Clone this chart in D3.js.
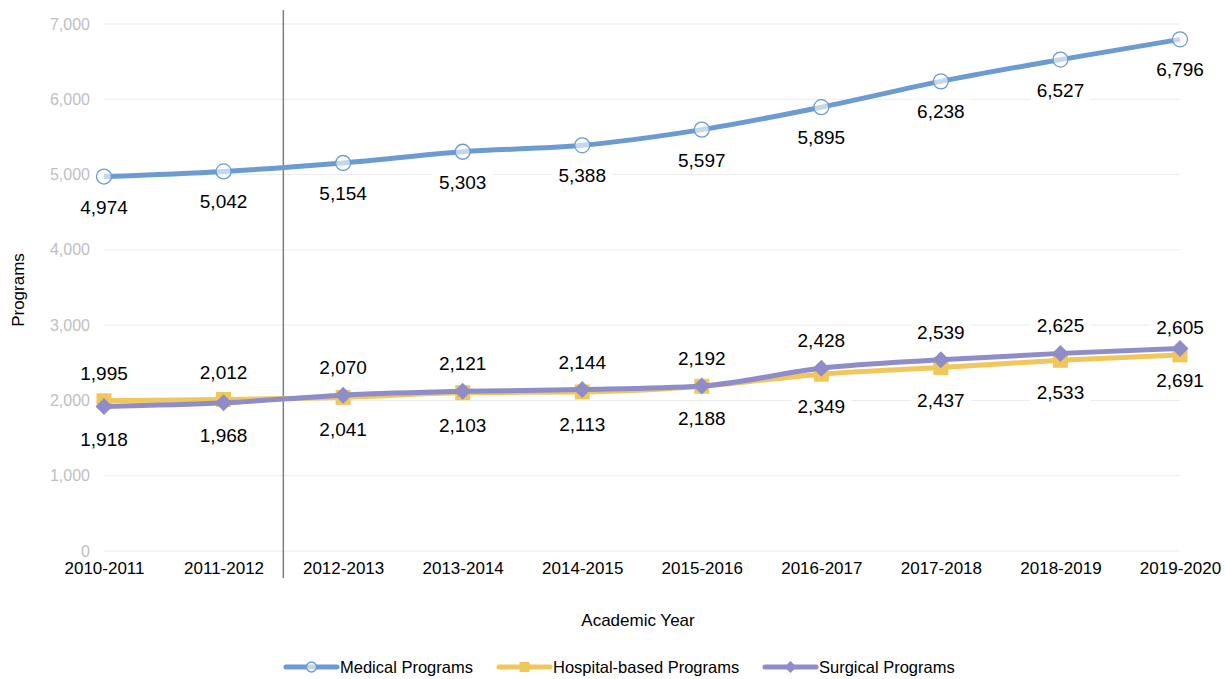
<!DOCTYPE html>
<html>
<head>
<meta charset="utf-8">
<script src="https://cdn.jsdelivr.net/npm/d3@7"></script>
<style>
  body { margin: 0; background: #fff; }
  text { font-family: "Liberation Sans", Arial, sans-serif; }
</style>
</head>
<body>
<div class="chart"></div>
<script>
var years = ["2010-2011", "2011-2012", "2012-2013", "2013-2014", "2014-2015",
  "2015-2016", "2016-2017", "2017-2018", "2018-2019", "2019-2020"];
var medical = [4974, 5042, 5154, 5303, 5388, 5597, 5895, 6238, 6527, 6796];
var hospital = [1995, 2012, 2041, 2103, 2113, 2188, 2349, 2437, 2533, 2605];
var surgical = [1918, 1968, 2070, 2121, 2144, 2192, 2428, 2539, 2625, 2691];
// which of the two lower series has its label on top, per year
var hospitalOnTop = [true, true, false, false, false, false, false, false, false, true];
var yTicks = [0, 1000, 2000, 3000, 4000, 5000, 6000, 7000];

var svgWidth = 1225;
var svgHeight = 679;

var svg = d3.select(".chart")
  .append("svg")
  .attr("width", svgWidth)
  .attr("height", svgHeight);

var xScale = d3.scalePoint()
  .domain(years)
  .range([104, 1180]);

var yScale = d3.scaleLinear()
  .domain([0, 7000])
  .range([551, 24]);

var fmt = d3.format(",");

// gridlines
svg.append("g").selectAll("line")
  .data(yTicks)
  .enter()
  .append("line")
  .attr("x1", xScale(years[0]))
  .attr("x2", xScale(years[years.length - 1]))
  .attr("y1", d => yScale(d))
  .attr("y2", d => yScale(d))
  .attr("stroke", "#ebebeb")
  .attr("stroke-width", 1);

// y axis labels
var leftAxis = d3.axisLeft(yScale).tickValues(yTicks).tickFormat(fmt).tickSize(0).tickPadding(0);
var yAxis = svg.append("g")
  .attr("transform", "translate(90,0)")
  .call(leftAxis);
yAxis.select(".domain").remove();
yAxis.selectAll("text")
  .attr("fill", "#bfbfbf")
  .attr("font-size", "16px")
  .style("font-family", "'Liberation Sans', Arial, sans-serif");

// x axis labels
var bottomAxis = d3.axisBottom(xScale).tickSize(0).tickPadding(0);
var xAxis = svg.append("g")
  .attr("transform", "translate(0,562)")
  .call(bottomAxis);
xAxis.select(".domain").remove();
xAxis.selectAll("text")
  .attr("fill", "#000")
  .attr("font-size", "17px")
  .style("font-family", "'Liberation Sans', Arial, sans-serif");

// vertical divider between 2011-2012 and 2012-2013
var divX = (xScale(years[1]) + xScale(years[2])) / 2;
svg.append("line")
  .attr("x1", divX).attr("x2", divX)
  .attr("y1", 10).attr("y2", 578)
  .attr("stroke", "#7f7f7f")
  .attr("stroke-width", 1.5);

// axis titles
svg.append("text")
  .attr("x", 638).attr("y", 626)
  .attr("text-anchor", "middle")
  .attr("font-size", "17px")
  .text("Academic Year");

svg.append("text")
  .attr("transform", "translate(24,290) rotate(-90)")
  .attr("text-anchor", "middle")
  .attr("font-size", "17px")
  .text("Programs");

var series = [
  { name: "Medical Programs", values: medical, color: "#6b9bd1", marker: "circle" },
  { name: "Hospital-based Programs", values: hospital, color: "#f1c75b", marker: "square" },
  { name: "Surgical Programs", values: surgical, color: "#8e8cc9", marker: "diamond" }
];

var line = d3.line()
  .x((d, i) => xScale(years[i]))
  .y(d => yScale(d))
  .curve(d3.curveMonotoneX);

function drawMarker(g, type, color, x, y, big) {
  if (type === "circle") {
    g.append("circle")
      .attr("cx", x).attr("cy", y)
      .attr("r", big ? 7.5 : 5)
      .attr("fill", "rgba(255,255,255,0.6)")
      .attr("stroke", color)
      .attr("stroke-width", 1.3);
  } else if (type === "square") {
    var s = big ? 15 : 10;
    g.append("rect")
      .attr("x", x - s / 2).attr("y", y - s / 2)
      .attr("width", s).attr("height", s)
      .attr("fill", color);
  } else {
    var h = big ? 8.5 : 6;
    g.append("path")
      .attr("d", `M${x},${y - h}L${x + h},${y}L${x},${y + h}L${x - h},${y}Z`)
      .attr("fill", color);
  }
}

// data labels sit on white boxes that cut the gridlines
var labelLayer = svg.append("g");

function addLabel(x, cy, v) {
  var g = labelLayer.append("g");
  g.append("rect")
    .attr("x", x - 30).attr("y", cy - 12)
    .attr("width", 60).attr("height", 24)
    .attr("fill", "#fff");
  g.append("text")
    .attr("x", x)
    .attr("y", cy + 7)
    .attr("text-anchor", "middle")
    .attr("font-size", "19px")
    .attr("fill", "#000")
    .text(fmt(v));
}

medical.forEach(function(v, i) {
  addLabel(xScale(years[i]), yScale(v) + 30, v);
});
hospital.forEach(function(v, i) {
  addLabel(xScale(years[i]), hospitalOnTop[i] ? yScale(v) - 28 : yScale(v) + 32, v);
});
surgical.forEach(function(v, i) {
  addLabel(xScale(years[i]), !hospitalOnTop[i] ? yScale(v) - 28 : yScale(v) + 32, v);
});

// hospital first, then surgical over it, medical on top
[1, 2, 0].forEach(function(k) {
  var s = series[k];
  var g = svg.append("g");
  g.append("path")
    .datum(s.values)
    .attr("d", line)
    .attr("fill", "none")
    .attr("stroke", s.color)
    .attr("stroke-width", 5)
    .attr("stroke-linejoin", "round");
  s.values.forEach(function(v, i) {
    drawMarker(g, s.marker, s.color, xScale(years[i]), yScale(v), true);
  });
});

// legend
var legendX = [286, 499, 765];
var legend = svg.append("g");
series.forEach(function(s, i) {
  var x0 = legendX[i];
  var y0 = 667;
  legend.append("line")
    .attr("x1", x0).attr("x2", x0 + 51)
    .attr("y1", y0).attr("y2", y0)
    .attr("stroke", s.color)
    .attr("stroke-width", 5)
    .attr("stroke-linecap", "round");
  drawMarker(legend, s.marker, s.color, x0 + 25.5, y0, false);
  legend.append("text")
    .attr("x", x0 + 54)
    .attr("y", y0 + 6)
    .attr("font-size", "16.5px")
    .text(s.name);
});
</script>
</body>
</html>
